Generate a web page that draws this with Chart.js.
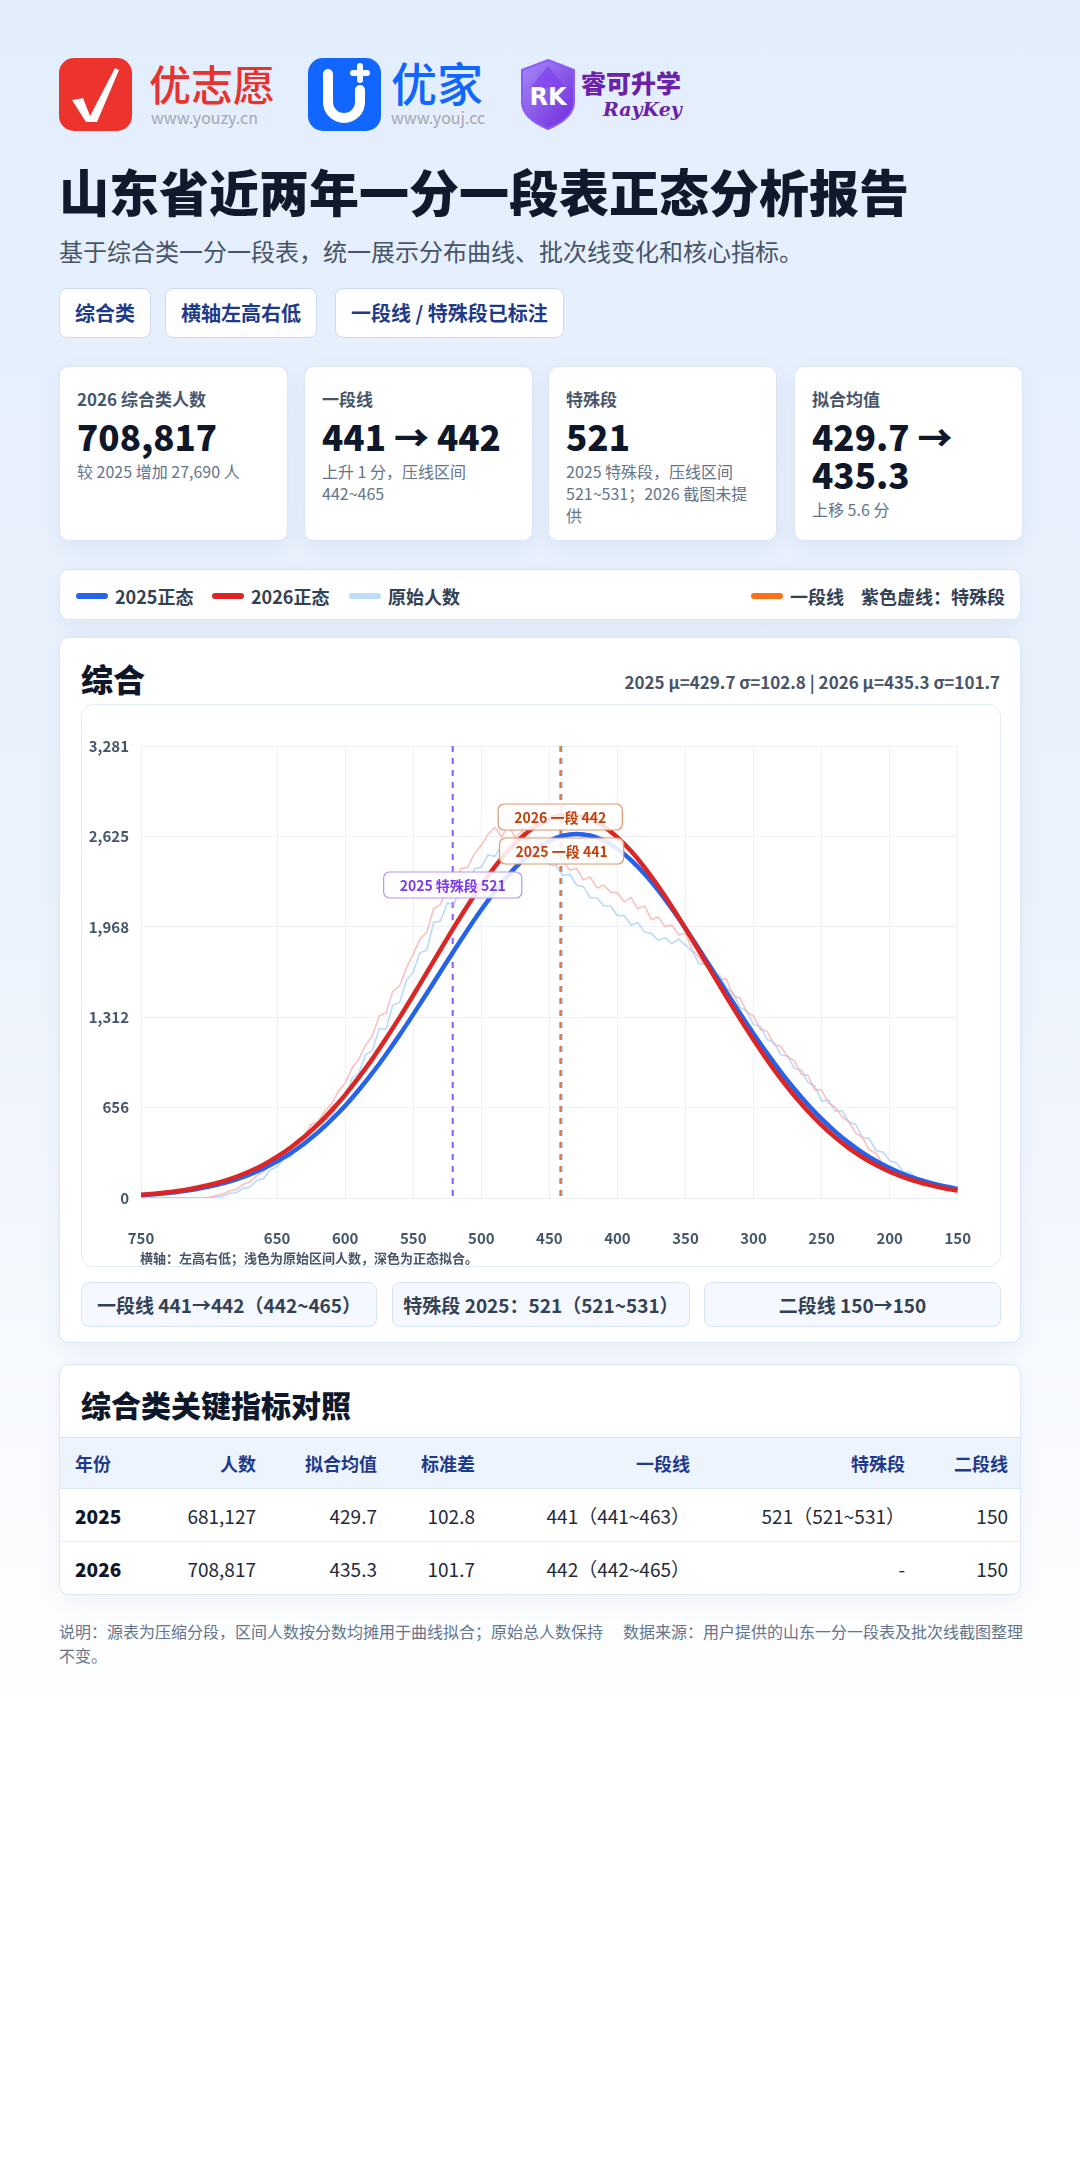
<!DOCTYPE html>
<html lang="zh-CN">
<head>
<meta charset="utf-8">
<title>山东省近两年一分一段表正态分析报告</title>
<script src="https://cdn.jsdelivr.net/npm/chart.js@4.4.1/dist/chart.umd.min.js"></script>
<style>
  * { box-sizing: border-box; }
  html, body { margin: 0; padding: 0; }
  body {
    width: 1080px; height: 2160px; position: relative; overflow: hidden;
    font-family: "Noto Sans CJK SC", "Noto Sans", sans-serif;
    background: linear-gradient(180deg, #e3eefd 0%, #ebf2fc 40%, #f6f9fe 62%, #ffffff 80%);
    color: #0f172a;
  }
  .abs { position: absolute; }
  .logo-text { position: absolute; white-space: nowrap; }
  .title { left: 59px; top: 158px; font-size: 50px; font-weight: 900; line-height: 64px; color: #0f1b2d; }
  .subtitle { left: 59px; top: 235px; font-size: 24px; line-height: 32px; color: #475569; }
  .tag {
    position: absolute; top: 288px; height: 50px; line-height: 48px; padding: 0 15px;
    background: #ffffff; border: 1px solid #c9dcf5; border-radius: 8px;
    font-size: 20px; font-weight: 700; color: #1e3a8a; white-space: nowrap;
  }
  .card {
    position: absolute; background: #ffffff; border: 1px solid #dbe6f5; border-radius: 10px;
    box-shadow: 0 8px 24px rgba(30, 64, 120, 0.06);
  }
  .stat { top: 366px; width: 229px; height: 175px; padding: 20px 17px 0 17px; }
  .stat .lab { font-size: 17px; line-height: 24px; font-weight: 700; color: #475569; }
  .stat .num { margin-top: 6px; font-size: 35px; line-height: 38px; font-weight: 800; color: #0f172a; }
  .stat .sub { margin-top: 5px; font-size: 16px; line-height: 22px; color: #64748b; }
  .legend { left: 59px; top: 569px; width: 962px; height: 51px; }
  .lg { position: absolute; top: 0; height: 51px; display: flex; align-items: center; font-size: 18px; font-weight: 700; color: #334155; white-space: nowrap; }
  .sw { display: inline-block; width: 32px; height: 6px; border-radius: 3px; margin-right: 7px; }
  .chartcard { left: 59px; top: 637px; width: 962px; height: 706px; }
  .ctitle { position: absolute; left: 21px; top: 18px; font-size: 32px; line-height: 44px; font-weight: 800; color: #0f172a; }
  .cstats { position: absolute; right: 20px; top: 32px; font-size: 17px; line-height: 24px; font-weight: 700; color: #475569; }
  .plotbox { position: absolute; left: 21px; top: 66px; width: 920px; height: 563px; border: 1px solid #e3ecf7; border-radius: 12px; background: #fff; }
  .plotbox canvas { position: absolute; left: 0; top: 0; }
  .note { position: absolute; left: 58px; top: 544px; font-size: 13px; line-height: 18px; font-weight: 700; color: #475569; }
  .info { position: absolute; top: 644px; height: 45px; line-height: 43px; text-align: center; background: #f5f9ff; border: 1px solid #d6e4f5; border-radius: 8px; font-size: 19px; font-weight: 700; color: #334155; white-space: nowrap; }
  .tablecard { left: 59px; top: 1364px; width: 962px; height: 231px; overflow: hidden; }
  .ttitle { position: absolute; left: 21px; top: 18px; font-size: 30px; line-height: 42px; font-weight: 800; color: #0f172a; }
  table { position: absolute; left: 0; top: 72px; width: 962px; border-collapse: collapse; table-layout: fixed; }
  th, td { padding: 0; text-align: right; white-space: nowrap; }
  th { height: 51px; background: #eef4fe; color: #1e3a8a; font-size: 18px; font-weight: 700; border-top: 1px solid #dbe6f5; border-bottom: 1px solid #dbe6f5; }
  td { height: 53px; font-size: 19px; color: #1f2937; border-bottom: 1px solid #e5edf7; }
  tr:last-child td { border-bottom: none; }
  th:first-child, td:first-child { text-align: left; padding-left: 15px; }
  th:last-child, td:last-child { padding-right: 14px; }
  td.y { font-weight: 800; color: #0f172a; }
  .foot { position: absolute; top: 1619px; font-size: 16px; line-height: 24px; color: #64748b; }
</style>
</head>
<body>

<!-- 标志 -->
<svg class="abs" style="left:59px;top:58px" width="73" height="73" viewBox="0 0 73 73">
  <rect x="0" y="0" width="73" height="73" rx="15" fill="#ec332d"/>
  <path d="M13 42 L24 40 L31 58 L56 10 L60 12 L38 64 L27 64 Z" fill="#ffffff"/>
</svg>
<div class="logo-text" style="left:149px;top:58px;font-size:42px;line-height:50px;color:#e8322e;font-weight:500">优志愿</div>
<div class="logo-text" style="left:151px;top:106px;font-size:16px;line-height:22px;color:#a3a8b0">www.youzy.cn</div>

<svg class="abs" style="left:308px;top:58px" width="73" height="73" viewBox="0 0 73 73">
  <rect x="0" y="0" width="73" height="73" rx="15" fill="#1166ff"/>
  <path d="M20 16 V44 a16 16 0 0 0 32 0 V32" stroke="#ffffff" stroke-width="10" fill="none" stroke-linecap="round"/>
  <path d="M52 8 V22 M45 15 H59" stroke="#ffffff" stroke-width="6" stroke-linecap="round"/>
</svg>
<div class="logo-text" style="left:391px;top:54px;font-size:46px;line-height:54px;color:#1166ff;font-weight:500">优家</div>
<div class="logo-text" style="left:391px;top:106px;font-size:16px;line-height:22px;color:#a3a8b0">www.youj.cc</div>

<svg class="abs" style="left:518px;top:58px" width="60" height="73" viewBox="0 0 60 73">
  <defs>
    <linearGradient id="rk" x1="0" y1="0" x2="1" y2="1">
      <stop offset="0" stop-color="#a78bfa"/>
      <stop offset="1" stop-color="#6d28d9"/>
    </linearGradient>
  </defs>
  <path d="M30 2 L56 12 V44 C56 58 42 66 30 71 C18 66 4 58 4 44 V12 Z" fill="url(#rk)" stroke="#8b5cf6" stroke-width="2"/>
  <path d="M30 8 L48 30 H12 Z" fill="#7c3aed" opacity="0.6"/>
  <text x="30" y="47" text-anchor="middle" font-size="24" font-weight="800" fill="#ffffff" font-family="DejaVu Sans">RK</text>
</svg>
<div class="logo-text" style="left:581px;top:66px;font-size:25px;line-height:32px;color:#6b21a8;font-weight:800">睿可升学</div>
<div class="logo-text" style="left:603px;top:97px;font-size:19px;line-height:24px;color:#6b21a8;font-weight:700;font-style:italic;font-family:'DejaVu Serif',serif">RayKey</div>

<div class="abs title">山东省近两年一分一段表正态分析报告</div>
<div class="abs subtitle">基于综合类一分一段表，统一展示分布曲线、批次线变化和核心指标。</div>

<div class="tag" style="left:59px">综合类</div>
<div class="tag" style="left:165px">横轴左高右低</div>
<div class="tag" style="left:335px">一段线 / 特殊段已标注</div>

<!-- 指标卡片 -->
<div class="card stat" style="left:59px">
  <div class="lab">2026 综合类人数</div>
  <div class="num">708,817</div>
  <div class="sub">较 2025 增加 27,690 人</div>
</div>
<div class="card stat" style="left:304px">
  <div class="lab">一段线</div>
  <div class="num">441 → 442</div>
  <div class="sub">上升 1 分，压线区间 442~465</div>
</div>
<div class="card stat" style="left:548px">
  <div class="lab">特殊段</div>
  <div class="num">521</div>
  <div class="sub">2025 特殊段，压线区间 521~531；2026 截图未提供</div>
</div>
<div class="card stat" style="left:794px">
  <div class="lab">拟合均值</div>
  <div class="num">429.7 → 435.3</div>
  <div class="sub">上移 5.6 分</div>
</div>

<!-- 图例 -->
<div class="card legend">
  <div class="lg" style="left:16px"><span class="sw" style="background:#2563eb"></span>2025正态</div>
  <div class="lg" style="left:152px"><span class="sw" style="background:#dc2626"></span>2026正态</div>
  <div class="lg" style="left:289px"><span class="sw" style="background:#bfdbfe"></span>原始人数</div>
  <div class="lg" style="left:691px"><span class="sw" style="background:#f97316"></span>一段线</div>
  <div class="lg" style="left:801px">紫色虚线：特殊段</div>
</div>

<!-- 图表 -->
<div class="card chartcard">
  <div class="ctitle">综合</div>
  <div class="cstats">2025 μ=429.7 σ=102.8 | 2026 μ=435.3 σ=101.7</div>
  <div class="plotbox">
    <canvas id="dist-chart" width="920" height="563"></canvas>
    <div class="note">横轴：左高右低；浅色为原始区间人数，深色为正态拟合。</div>
  </div>
  <div class="info" style="left:21px;width:296px">一段线 441→442（442~465）</div>
  <div class="info" style="left:332px;width:298px">特殊段 2025：521（521~531）</div>
  <div class="info" style="left:644px;width:297px">二段线 150→150</div>
</div>

<!-- 指标表 -->
<div class="card tablecard">
  <div class="ttitle">综合类关键指标对照</div>
  <table>
    <colgroup>
      <col style="width:106px"><col style="width:90px"><col style="width:121px"><col style="width:98px">
      <col style="width:215px"><col style="width:215px"><col style="width:117px">
    </colgroup>
    <tr><th>年份</th><th>人数</th><th>拟合均值</th><th>标准差</th><th>一段线</th><th>特殊段</th><th>二段线</th></tr>
    <tr><td class="y">2025</td><td>681,127</td><td>429.7</td><td>102.8</td><td>441（441~463）</td><td>521（521~531）</td><td>150</td></tr>
    <tr><td class="y">2026</td><td>708,817</td><td>435.3</td><td>101.7</td><td>442（442~465）</td><td>-</td><td>150</td></tr>
  </table>
</div>

<div class="foot" style="left:59px;width:552px">说明：源表为压缩分段，区间人数按分数均摊用于曲线拟合；原始总人数保持不变。</div>
<div class="foot" style="left:623px;width:420px">数据来源：用户提供的山东一分一段表及批次线截图整理</div>

<script>
// 分数刻度（左高右低）
const xTicks = [750, 650, 600, 550, 500, 450, 400, 350, 300, 250, 200, 150];
const yTicks = [0, 656, 1312, 1968, 2625, 3281];

// 正态拟合曲线（每 10 分一个点，750 → 150）
const fitScores = [
  750, 740, 730, 720, 710, 700, 690, 680, 670, 660, 650, 640, 630, 620, 610, 600,
  590, 580, 570, 560, 550, 540, 530, 520, 510, 500, 490, 480, 470, 460, 450, 440,
  430, 420, 410, 400, 390, 380, 370, 360, 350, 340, 330, 320, 310, 300, 290, 280,
  270, 260, 250, 240, 230, 220, 210, 200, 190, 180, 170, 160, 150
];
const fit2025 = [
  21, 28, 37, 49, 64, 83, 107, 136, 172, 215, 266, 326, 396, 476, 568, 670,
  784, 908, 1042, 1184, 1333, 1486, 1642, 1797, 1948, 2092, 2225, 2345, 2448, 2531, 2592, 2630,
  2643, 2631, 2595, 2535, 2453, 2352, 2233, 2100, 1957, 1806, 1651, 1496, 1342, 1193, 1050, 916,
  791, 677, 574, 482, 400, 330, 269, 218, 174, 138, 109, 85, 65
];
const fit2026 = [
  23, 31, 42, 55, 72, 94, 121, 154, 194, 242, 300, 367, 445, 534, 636, 749,
  875, 1010, 1157, 1311, 1472, 1637, 1802, 1966, 2123, 2271, 2406, 2524, 2623, 2700, 2752, 2778,
  2777, 2749, 2696, 2618, 2518, 2399, 2263, 2114, 1956, 1793, 1627, 1462, 1302, 1148, 1002, 866,
  742, 630, 529, 440, 362, 296, 239, 191, 152, 119, 93, 71, 54
];

// 原始区间人数（每 5 分一个点，750 → 150）
const rawScores = [
  750, 745, 740, 735, 730, 725, 720, 715, 710, 705, 700, 695, 690, 685, 680, 675,
  670, 665, 660, 655, 650, 645, 640, 635, 630, 625, 620, 615, 610, 605, 600, 595,
  590, 585, 580, 575, 570, 565, 560, 555, 550, 545, 540, 535, 530, 525, 520, 515,
  510, 505, 500, 495, 490, 485, 480, 475, 470, 465, 460, 455, 450, 445, 440, 435,
  430, 425, 420, 415, 410, 405, 400, 395, 390, 385, 380, 375, 370, 365, 360, 355,
  350, 345, 340, 335, 330, 325, 320, 315, 310, 305, 300, 295, 290, 285, 280, 275,
  270, 265, 260, 255, 250, 245, 240, 235, 230, 225, 220, 215, 210, 205, 200, 195,
  190, 185, 180, 175, 170, 165, 160, 155, 150
];
const raw2025 = [
  0, 0, 0, 0, 0, 0, 0, 0, 0, 0, 0, 8, 12, 34, 38, 70,
  80, 128, 142, 205, 228, 290, 300, 372, 380, 465, 470, 565, 585, 700, 730, 870,
  905, 1040, 1070, 1230, 1225, 1400, 1420, 1580, 1640, 1780, 1800, 2000, 2010, 2140, 2130, 2280,
  2270, 2390, 2400, 2490, 2480, 2560, 2540, 2590, 2570, 2610, 2530, 2520, 2420, 2410, 2340, 2350,
  2270, 2260, 2180, 2180, 2120, 2120, 2050, 2050, 1980, 2000, 1930, 1920, 1870, 1890, 1845, 1880,
  1835, 1790, 1700, 1700, 1610, 1620, 1525, 1490, 1385, 1355, 1260, 1245, 1150, 1130, 1040, 1030,
  940, 930, 840, 810, 705, 710, 630, 635, 550, 535, 440, 430, 345, 335, 270, 255,
  190, 185, 145, 138, 110, 110, 90, 92, 78
];
const raw2026 = [
  0, 0, 0, 0, 0, 0, 0, 0, 0, 0, 6, 18, 28, 52, 62, 98,
  118, 160, 190, 245, 280, 330, 365, 425, 455, 535, 555, 630, 680, 775, 835, 940,
  1010, 1110, 1180, 1320, 1345, 1500, 1540, 1670, 1770, 1880, 1930, 2100, 2130, 2260, 2260, 2390,
  2400, 2500, 2560, 2640, 2690, 2620, 2710, 2610, 2670, 2570, 2560, 2490, 2510, 2420, 2450, 2380,
  2390, 2310, 2330, 2250, 2270, 2220, 2215, 2150, 2180, 2100, 2120, 2020, 2040, 1970, 1980, 1910,
  1920, 1800, 1745, 1680, 1660, 1585, 1590, 1470, 1450, 1350, 1320, 1225, 1210, 1115, 1100, 1025,
  995, 900, 890, 785, 785, 690, 660, 590, 555, 470, 440, 350, 325, 245, 225, 178,
  165, 124, 118, 90, 90, 68, 72, 57, 56
];

// 批次线标注
const markLines = [
  { score: 521, color: '#8b5cf6', width: 2 },
  { score: 442, color: '#f97316', width: 1.8 },
  { score: 441, color: '#60a5fa', width: 1.6 }
];
const markLabels = [
  { score: 442, text: '2026 一段 442', dy: 71, color: '#c2410c', border: '#e0956b' },
  { score: 441, text: '2025 一段 441', dy: 105, color: '#c2410c', border: '#e0956b' },
  { score: 521, text: '2025 特殊段 521', dy: 139, color: '#7c3aed', border: '#b794f4' }
];

const toPoints = (xs, ys) => xs.map((x, i) => ({ x: x, y: ys[i] }));

// 虚线与标签
const markPlugin = {
  id: 'marks',
  beforeDatasetsDraw(chart) {
    const { ctx, chartArea, scales } = chart;
    ctx.save();
    ctx.setLineDash([6, 6]);
    markLines.forEach(m => {
      const x = scales.x.getPixelForValue(m.score);
      ctx.strokeStyle = m.color;
      ctx.lineWidth = m.width;
      ctx.beginPath();
      ctx.moveTo(x, chartArea.top);
      ctx.lineTo(x, chartArea.bottom);
      ctx.stroke();
    });
    ctx.restore();
  },
  afterDatasetsDraw(chart) {
    const { ctx, chartArea, scales } = chart;
    ctx.save();
    ctx.font = '700 14px "Noto Sans CJK SC", "Noto Sans", sans-serif';
    ctx.textAlign = 'center';
    ctx.textBaseline = 'middle';
    markLabels.forEach(l => {
      const x = scales.x.getPixelForValue(l.score);
      const y = chartArea.top + l.dy;
      const w = ctx.measureText(l.text).width + 32;
      const h = 26;
      ctx.beginPath();
      ctx.roundRect(x - w / 2, y - h / 2, w, h, 6);
      ctx.fillStyle = 'rgba(255,255,255,0.88)';
      ctx.fill();
      ctx.lineWidth = 1.2;
      ctx.strokeStyle = l.border;
      ctx.stroke();
      ctx.fillStyle = l.color;
      ctx.fillText(l.text, x, y + 1);
    });
    ctx.restore();
  }
};

Chart.defaults.font.family = '"Noto Sans CJK SC", "Noto Sans", sans-serif';

new Chart(document.getElementById('dist-chart'), {
  type: 'line',
  data: {
    datasets: [
      {
        label: '2026正态',
        data: toPoints(fitScores, fit2026),
        borderColor: '#dc2626',
        borderWidth: 4.5,
        pointRadius: 0,
        cubicInterpolationMode: 'monotone'
      },
      {
        label: '2025正态',
        data: toPoints(fitScores, fit2025),
        borderColor: '#2563eb',
        borderWidth: 4.5,
        pointRadius: 0,
        cubicInterpolationMode: 'monotone'
      },
      {
        label: '2026原始人数',
        data: toPoints(rawScores, raw2026),
        borderColor: 'rgba(252,165,165,0.7)',
        borderWidth: 1.6,
        pointRadius: 0,
        tension: 0
      },
      {
        label: '2025原始人数',
        data: toPoints(rawScores, raw2025),
        borderColor: 'rgba(147,197,253,0.65)',
        borderWidth: 1.6,
        pointRadius: 0,
        tension: 0
      }
    ]
  },
  options: {
    responsive: false,
    animation: false,
    layout: { padding: { top: 41, right: 38, bottom: 20, left: 0 } },
    plugins: {
      legend: { display: false },
      tooltip: { enabled: false }
    },
    scales: {
      x: {
        type: 'linear',
        reverse: true,
        min: 150,
        max: 750,
        afterBuildTicks: s => { s.ticks = xTicks.map(v => ({ value: v })); },
        afterFit: s => { s.height = 50; },
        grid: { color: '#eef2f8', drawTicks: false },
        border: { display: false },
        ticks: {
          padding: 31,
          maxRotation: 0,
          autoSkip: false,
          color: '#475569',
          font: { size: 15, weight: '700' }
        }
      },
      y: {
        min: 0,
        max: 3281,
        afterBuildTicks: s => { s.ticks = yTicks.map(v => ({ value: v })); },
        afterFit: s => { s.width = 59; },
        grid: { color: '#edf2f8', drawTicks: false },
        border: { display: false },
        ticks: {
          padding: 12,
          color: '#475569',
          font: { size: 15, weight: '700' },
          callback: v => v.toLocaleString('en-US')
        }
      }
    }
  },
  plugins: [markPlugin]
});
</script>
</body>
</html>
